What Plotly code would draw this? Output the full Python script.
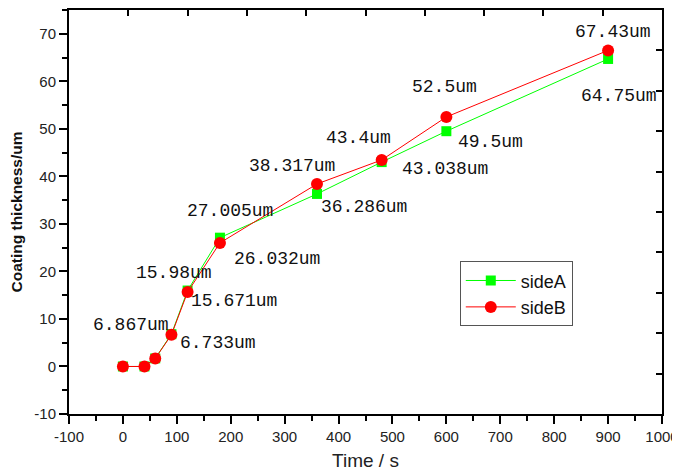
import plotly.graph_objects as go

# ---- data ----
time_s = [0, 40, 60, 90, 120, 180, 360, 480, 600, 900]
side_a = [0, 0, 1.7, 6.8, 15.98, 27.1, 36.3, 43.0, 49.5, 64.7]
side_b = [0, 0, 1.7, 6.65, 15.66, 26.0, 38.4, 43.45, 52.5, 66.5]

x_tickvals = [-100, 0, 100, 200, 300, 400, 500, 600, 700, 800, 900, 1000]
x_ticktext = ["-100", "0", "100", "200", "300", "400", "500", "600", "700", "800", "900", "1000"]
y_tickvals = [-10, 0, 10, 20, 30, 40, 50, 60, 70]
y_ticktext = ["-10", "0", "10", "20", "30", "40", "50", "60", "70"]

labels_a = ["", "", "", "6.867um", "15.98um", "27.005um", "36.286um", "43.038um", "49.5um", "64.75um"]
labels_b = ["", "", "", "6.733um", "15.671um", "26.032um", "38.317um", "43.4um", "52.5um", "67.43um"]
# pixel offsets of each label centre from its point (dx right, dy up)
offs_a = [None, None, None, (-40, 9), (-14, 18), (10, 27), (47, -13), (63, -7), (44, -11), (11, -37)]
offs_b = [None, None, None, (47, -8), (46, -9), (57, -16), (-25, 18), (-23, 22), (-2, 30), (5, 18)]

fig = go.Figure()
fig.add_trace(go.Scatter(x=time_s, y=side_a, name="sideA", mode="lines+markers",
                         line=dict(color="#00FF00", width=1),
                         marker=dict(symbol="square", size=10, color="#00FF00")))
fig.add_trace(go.Scatter(x=time_s, y=side_b, name="sideB", mode="lines+markers",
                         line=dict(color="#FF0000", width=1),
                         marker=dict(symbol="circle", size=12, color="#FF0000")))
# empty trace to activate the top/right tick axes
fig.add_trace(go.Scatter(x=[], y=[], xaxis="x2", yaxis="y2", showlegend=False, hoverinfo="skip"))

annotations = []
for xs, ys, labs, offs in [(time_s, side_a, labels_a, offs_a), (time_s, side_b, labels_b, offs_b)]:
    for x, y, t, o in zip(xs, ys, labs, offs):
        if not t:
            continue
        annotations.append(dict(x=x, y=y, xref="x", yref="y", text=t, showarrow=False,
                                xshift=o[0], yshift=o[1],
                                font=dict(family="Liberation Mono", size=18, color="#111")))

axis_font = dict(family="Liberation Sans, Arial", size=15, color="#222")

# page body has an 8px default margin, so the figure is sized to fit the window
fig.update_layout(
    width=672, height=465,
    margin=dict(l=61, r=18, t=2, b=59, autoexpand=False),
    plot_bgcolor="white", paper_bgcolor="white",
    showlegend=True,
    legend=dict(x=0.659, y=0.378, xanchor="left", yanchor="top",
                bordercolor="#555", borderwidth=1, bgcolor="white",
                font=dict(family="Liberation Sans, Arial", size=18, color="#111"),
                itemwidth=50, tracegroupgap=0),
    annotations=annotations,
    xaxis=dict(range=[-100, 1000], tickmode="array", tickvals=x_tickvals, ticktext=x_ticktext,
               showgrid=False, zeroline=False, automargin=False,
               showline=True, linecolor="black", linewidth=2, mirror=True,
               ticks="outside", ticklen=8, tickwidth=2, tickcolor="black",
               minor=dict(dtick=50, tick0=0, ticks="outside", ticklen=5, tickwidth=2, tickcolor="black", showgrid=False),
               tickfont=axis_font,
               title=dict(text="Time / s", font=dict(family="Liberation Sans, Arial", size=19, color="#222"), standoff=10)),
    yaxis=dict(range=[-10, 75], tickmode="array", tickvals=y_tickvals, ticktext=y_ticktext,
               showgrid=False, zeroline=False, automargin=False,
               showline=True, linecolor="black", linewidth=2, mirror=True,
               ticks="outside", ticklen=8, tickwidth=2, tickcolor="black",
               minor=dict(dtick=5, tick0=0, ticks="outside", ticklen=5, tickwidth=2, tickcolor="black", showgrid=False),
               tickfont=axis_font,
               title=dict(text="<b>Coating thickness/um</b>", font=dict(family="Liberation Sans, Arial", size=15.5, color="#111"), standoff=12)),
    xaxis2=dict(overlaying="x", side="top", anchor="y", range=[0, 10], dtick=1, tick0=0,
                showgrid=False, zeroline=False, showline=False, showticklabels=False,
                ticks="inside", ticklen=6, tickwidth=2, tickcolor="black"),
    yaxis2=dict(overlaying="y", side="right", anchor="x", range=[0, 10], dtick=1, tick0=0,
                showgrid=False, zeroline=False, showline=False, showticklabels=False,
                ticks="inside", ticklen=6, tickwidth=2, tickcolor="black"),
)

fig.write_html("out.html")
